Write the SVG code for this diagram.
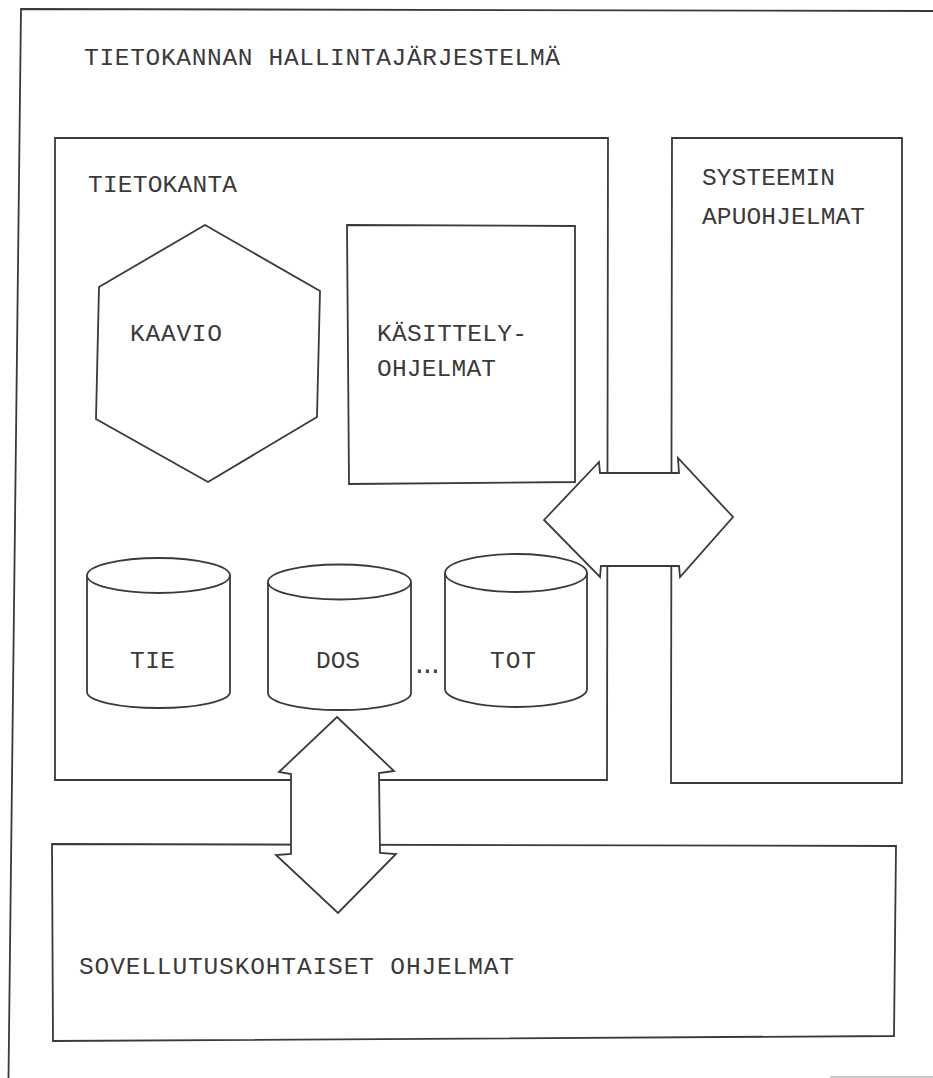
<svg xmlns="http://www.w3.org/2000/svg" width="933" height="1078" viewBox="0 0 933 1078">
<style>
.ln{fill:none;stroke:#3a3a3a;stroke-width:1.8;stroke-linejoin:miter}
.wf{fill:#fff;stroke:#3a3a3a;stroke-width:1.8;stroke-linejoin:miter}
.t{font-family:"Liberation Mono","Courier New",monospace;font-size:24.5px;fill:#3a3a3a}
</style>
<rect width="933" height="1078" fill="#fff"/>
<g id="frame">
<path class="ln" d="M8.5,1078 L21,9 L933,11"/>
<line x1="830" y1="1077" x2="933" y2="1077" stroke="#c8c8c8" stroke-width="2"/>
<text class="t" x="84" y="65" textLength="476" lengthAdjust="spacing">TIETOKANNAN HALLINTAJÄRJESTELMÄ</text>
</g>
<g id="tietokanta">
<polygon class="wf" points="55,138 608,138 607,780 55,780"/>
<text class="t" x="88" y="192" textLength="149" lengthAdjust="spacing">TIETOKANTA</text>
</g>
<g id="systeemin-apuohjelmat">
<polygon class="wf" points="672,138 902,138 902,783 671,783"/>
<text class="t" x="702" y="185" textLength="133" lengthAdjust="spacing">SYSTEEMIN</text>
<text class="t" x="702" y="224" textLength="163" lengthAdjust="spacing">APUOHJELMAT</text>
</g>
<g id="sovellutuskohtaiset">
<polygon class="wf" points="52,844 896,846 894,1036 53,1041"/>
<text class="t" x="79" y="974" textLength="435" lengthAdjust="spacing">SOVELLUTUSKOHTAISET OHJELMAT</text>
</g>
<g id="kaavio">
<polygon class="wf" points="205,225 320,291 317,417 208,482 96,419 99,287"/>
<text class="t" x="130" y="341" textLength="92" lengthAdjust="spacing">KAAVIO</text>
</g>
<g id="kasittelyohjelmat">
<polygon class="wf" points="347,225 575,226 575,482 349,484"/>
<text class="t" x="377" y="341" textLength="150" lengthAdjust="spacing">KÄSITTELY-</text>
<text class="t" x="377" y="376" textLength="119" lengthAdjust="spacing">OHJELMAT</text>
</g>
<g id="tie">
<path class="wf" d="M87,575.5 V692 A71.5,16 0 0 0 230,692 V575.5"/>
<ellipse class="wf" cx="158.5" cy="575.5" rx="71.5" ry="17.5"/>
<text class="t" x="130" y="668" textLength="45" lengthAdjust="spacing">TIE</text>
</g>
<g id="dos">
<path class="wf" d="M268,582 V693 A71.5,17 0 0 0 411,693 V582"/>
<ellipse class="wf" cx="339.5" cy="582" rx="71.5" ry="17.5"/>
<text class="t" x="316" y="668" textLength="44" lengthAdjust="spacing">DOS</text>
</g>
<text class="t" x="412 420 428" y="673">...</text>
<g id="tot">
<path class="wf" d="M445,573 V689 A71,18 0 0 0 587,689 V573"/>
<ellipse class="wf" cx="516" cy="573" rx="71" ry="19"/>
<text class="t" x="490" y="668" textLength="46" lengthAdjust="spacing">TOT</text>
</g>
<g id="connectors">
<polygon class="wf" points="544,520 599,462 600,473 679,473 678,458 733,517 680,577 679,566 601,566 600,577"/>
<polygon class="wf" points="337,717 394,771 379,773 380,853 396,854 338,913 276,855 291,854 291,774 279,772"/>
</g>
</svg>
